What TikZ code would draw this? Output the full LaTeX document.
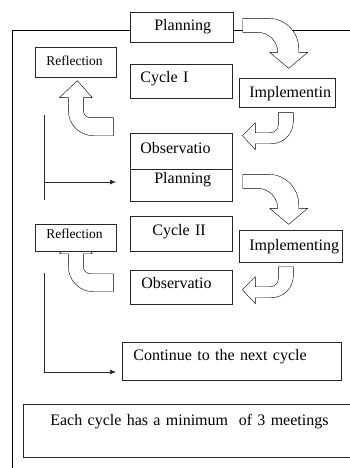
\documentclass[tikz,border=0pt]{standalone}
\usepackage{fontspec}
\setmainfont{Liberation Serif}
\usetikzlibrary{arrows.meta, backgrounds}

\tikzset{
  stagebox/.style n args={4}{draw, fill=white, anchor=north west, inner sep=0pt,
    align=left, text width=#1pt, text height=#2pt, text depth=#3pt,
    execute at begin node={\hspace*{#4pt}}},
  bigarrow/.style={draw, fill=white, line join=round},
  turn down/.pic={\path[bigarrow] (0,0) -- (26,0) arc[start angle=270, end angle=360, radius=30]
    -- (56,34) -- (65,34) -- (46,50) -- (27,34) -- (35,34)
    arc[start angle=0, end angle=-90, radius=20] -- (0,14) -- cycle;},
  turn left/.pic={\path[bigarrow] (0,0) -- (15,0) -- (15,9) arc[start angle=0, end angle=90, radius=22]
    -- (-23,31) -- (-23,37) -- (-36,23) -- (-23,10) -- (-23,20) -- (-8,20)
    arc[start angle=90, end angle=0, radius=8] -- cycle;},
  turn up/.pic={\path[bigarrow] (0,0) -- (0,18) -- (-20,18) arc[start angle=90, end angle=180, radius=25]
    -- (-45,-20) -- (-54,-20) -- (-36,-37) -- (-21,-20) -- (-30,-20) -- (-30,-7)
    arc[start angle=180, end angle=90, radius=7] -- cycle;}
}

\begin{document}
\begin{tikzpicture}[x=1pt, y=-1pt, line width=0.7pt, draw=black!85,
  font=\fontsize{16}{18}\selectfont,
  small/.style={font=\fontsize{13.5}{16}\selectfont},
  feed/.style={-{Latex[length=6pt,width=5pt]}}]
\useasboundingbox (0,0) rectangle (349,468);

% cycle I
\node[stagebox={103}{18.5}{11.5}{24}] (plan1) at (130,12) {Planning};
\node[stagebox={81}{18}{12}{11}, small] (refl1) at (35,47) {Reflection};
\node[stagebox={102}{18}{16}{10}] (cyc1) at (130,64) {Cycle I};
\node[stagebox={96}{19}{10}{10}] (impl1) at (239,78) {Implementin};
\node[stagebox={102}{20}{16}{10}] (obs1) at (130,133) {Observatio};

% cycle II
\node[stagebox={102}{14}{18}{24}] (plan2) at (130,169) {Planning};
\node[stagebox={102}{19}{16}{22}] (cyc2) at (130,216) {Cycle II};
\node[stagebox={81}{14}{13}{11}, small] (refl2) at (35,224) {Reflection};
\node[stagebox={103}{20}{12}{10}] (impl2) at (239,230) {Implementing};
\node[stagebox={102}{18}{16}{11}] (obs2) at (130,270) {Observatio};

\node[stagebox={219}{18}{20}{11}] (cont) at (122,342) {Continue to the next cycle};
\node[stagebox={330}{21}{32}{27}] (each) at (23,404) {Each cycle has a minimum\ \ of 3 meetings};

\coordinate (fright) at (355,30);
\coordinate (fcorner) at (12,30);
\coordinate (fbottom) at (12,470);
\coordinate (l1top) at (44,115);
\coordinate (l1mid) at (44,182);
\coordinate (l1bot) at (44,200);
\coordinate (l2top) at (44,273);
\coordinate (l2bot) at (44,372);

\begin{scope}[on background layer]
\draw (fright) -- (fcorner) -- (fbottom);
\pic[shift={(9,-9)}] at (plan1.east) {turn down};
\pic[shift={(-9,5)}] at (impl1.south) {turn left};
\pic[shift={(37.5,40)}] at (refl1.south) {turn up};
\pic[shift={(10,-11)}] at (plan2.east) {turn down};
\pic[shift={(-12.5,4)}] at (impl2.south) {turn left};
\pic[shift={(37.5,22)}] at (refl2.south) {turn up};
\end{scope}

\draw (l1top) -- (l1bot);
\draw[feed, shorten >=14pt] (l1mid) -- (l1mid -| plan2.west);
\draw (l2top) -- (l2bot);
\draw[feed, shorten >=6pt] (l2bot) -- (l2bot -| cont.west);
\end{tikzpicture}
\end{document}
